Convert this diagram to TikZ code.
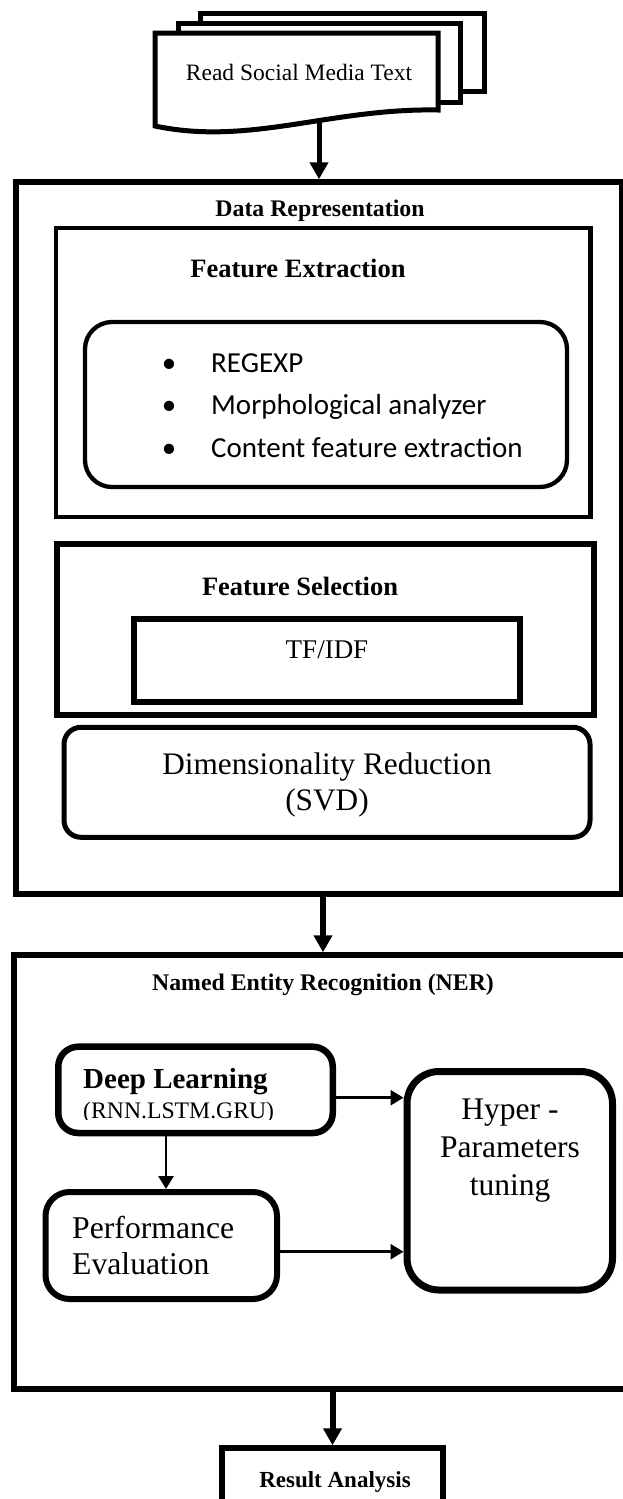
\documentclass[tikz,border=0pt]{standalone}
\usepackage{fontspec}
\setmainfont{Liberation Serif}
\newfontfamily\calibrifont{Carlito}
\usetikzlibrary{arrows.meta}
\newcommand\setfs[1]{\fontsize{#1pt}{#1pt}\selectfont}

\begin{document}
\begin{tikzpicture}[x=1pt,y=-1pt,
  box/.style={draw, inner sep=0pt},
  sheet/.style={draw, fill=white, line width=5pt},
  txt/.style={inner sep=0pt, anchor=base},
  bigarrow/.style={line width=5.5pt, -{Triangle[length=17pt,width=18pt]}},
  smallarrow/.style={line width=2.8pt, -{Triangle[length=13pt,width=15pt]}}]
\useasboundingbox (0,0) rectangle (623,1499);
\clip (0,0) rectangle (623,1499);

% stacked document: input text
\filldraw[sheet] (200,13) rectangle (484,91);
\filldraw[sheet] (178,23) rectangle (460,102);
\filldraw[sheet] (155,33) -- (438,33) -- (438,110)
  .. controls (330,108) and (250,146) .. (155,126) -- cycle;
\node[txt, font=\setfs{23.5}] (doc) at (299,80) {Read Social Media Text};
\coordinate (docbot) at (319,120.5);

% data representation block
\node[box, line width=5.5pt, minimum width=606pt, minimum height=712pt] (dr) at (319,538) {};
\node[txt, font=\setfs{23.8}\bfseries] (drt) at (320,216.5) {Data Representation};

\node[box, line width=4.3pt, minimum width=534.5pt, minimum height=289pt] (fe) at (323.25,372.5) {};
\node[txt, font=\setfs{26.5}\bfseries] (fet) at (298,277) {Feature Extraction};

\node[box, line width=4.3pt, rounded corners=27pt, minimum width=482pt, minimum height=165pt] (fx) at (326,404.5) {};
\node[txt, anchor=base west, font=\calibrifont\setfs{29}] (b1) at (160,372)
  {\makebox[51pt][l]{\makebox[18pt]{•}}REGEXP};
\node[txt, anchor=base west, font=\calibrifont\setfs{29}] (b2) at (160,414.5)
  {\makebox[51pt][l]{\makebox[18pt]{•}}Morphological analyzer};
\node[txt, anchor=base west, font=\calibrifont\setfs{29}] (b3) at (160,457)
  {\makebox[51pt][l]{\makebox[18pt]{•}}Content feature extraction};

\node[box, line width=5.5pt, minimum width=537pt, minimum height=171pt] (fs) at (325.5,629.5) {};
\node[txt, font=\setfs{26.5}\bfseries] (fst) at (300,595) {Feature Selection};

\node[box, line width=6.5pt, minimum width=386pt, minimum height=83pt] (tf) at (327,660.5) {};
\node[txt, font=\setfs{27}] (tft) at (327,658.3) {TF/IDF};

\node[box, line width=5pt, rounded corners=17pt, minimum width=526pt, minimum height=110pt] (dim) at (327,782.3) {};
\node[txt, font=\setfs{31.3}] (dimt1) at (327,774) {Dimensionality Reduction};
\node[txt, font=\setfs{31.3}] (dimt2) at (327,810) {(SVD)};

% named entity recognition block
\node[box, line width=5.5pt, minimum width=636pt, minimum height=434pt] (ner) at (332,1172) {};
\node[txt, font=\setfs{23.8}\bfseries] (nert) at (323,990.7) {Named Entity Recognition (NER)};

\node[box, line width=6.5pt, rounded corners=20pt, minimum width=274.5pt, minimum height=86.3pt] (dl) at (195.5,1089.85) {};
\node[txt, anchor=base west, font=\setfs{29}\bfseries] (dlt) at (83,1088.3) {Deep Learning};
\begin{scope}
  \clip (70,1095) rectangle (320,1119.5);
  \node[txt, anchor=base west, font=\setfs{23.7}] (rnn) at (83,1118.4) {(RNN.LSTM.GRU)};
\end{scope}

\node[box, line width=6pt, rounded corners=24pt, minimum width=231.5pt, minimum height=107pt] (pe) at (161.25,1245.5) {};
\node[txt, anchor=base west, font=\setfs{31.7}] (pet1) at (72,1238.3) {Performance};
\node[txt, anchor=base west, font=\setfs{31.7}] (pet2) at (72,1274) {Evaluation};

\node[box, line width=7pt, rounded corners=32pt, minimum width=205.5pt, minimum height=218.5pt] (hyp) at (509.75,1180.75) {};
\node[txt, font=\setfs{31.5}] (hyt1) at (510,1119) {Hyper -};
\node[txt, font=\setfs{31.5}] (hyt2) at (510,1157) {Parameters};
\node[txt, font=\setfs{31.5}] (hyt3) at (510,1195) {tuning};

% result block
\node[box, line width=5.5pt, minimum width=221pt, minimum height=82pt] (res) at (332.5,1489) {};
\node[txt, font=\setfs{23}\bfseries] (rest) at (335,1487) {Result Analysis};

% connectors
\draw[bigarrow, line width=5pt] (docbot) -- (docbot |- dr.north);
\draw[bigarrow, line width=6pt] ([xshift=4pt]dr.south) -- ([xshift=4pt]dr.south |- ner.north);
\draw[bigarrow, line width=6pt] (ner.south -| res.north) -- (res.north);
\draw[smallarrow] ([yshift=-7.85pt]dl.east) -- ([yshift=-7.85pt]dl.east -| hyp.west);
\draw[smallarrow] ([xshift=4.75pt]pe.north |- dl.south) -- ([xshift=4.75pt]pe.north);
\draw[smallarrow] ([yshift=-6.2pt]pe.east) -- ([yshift=-6.2pt]pe.east -| hyp.west);
\end{tikzpicture}
\end{document}
